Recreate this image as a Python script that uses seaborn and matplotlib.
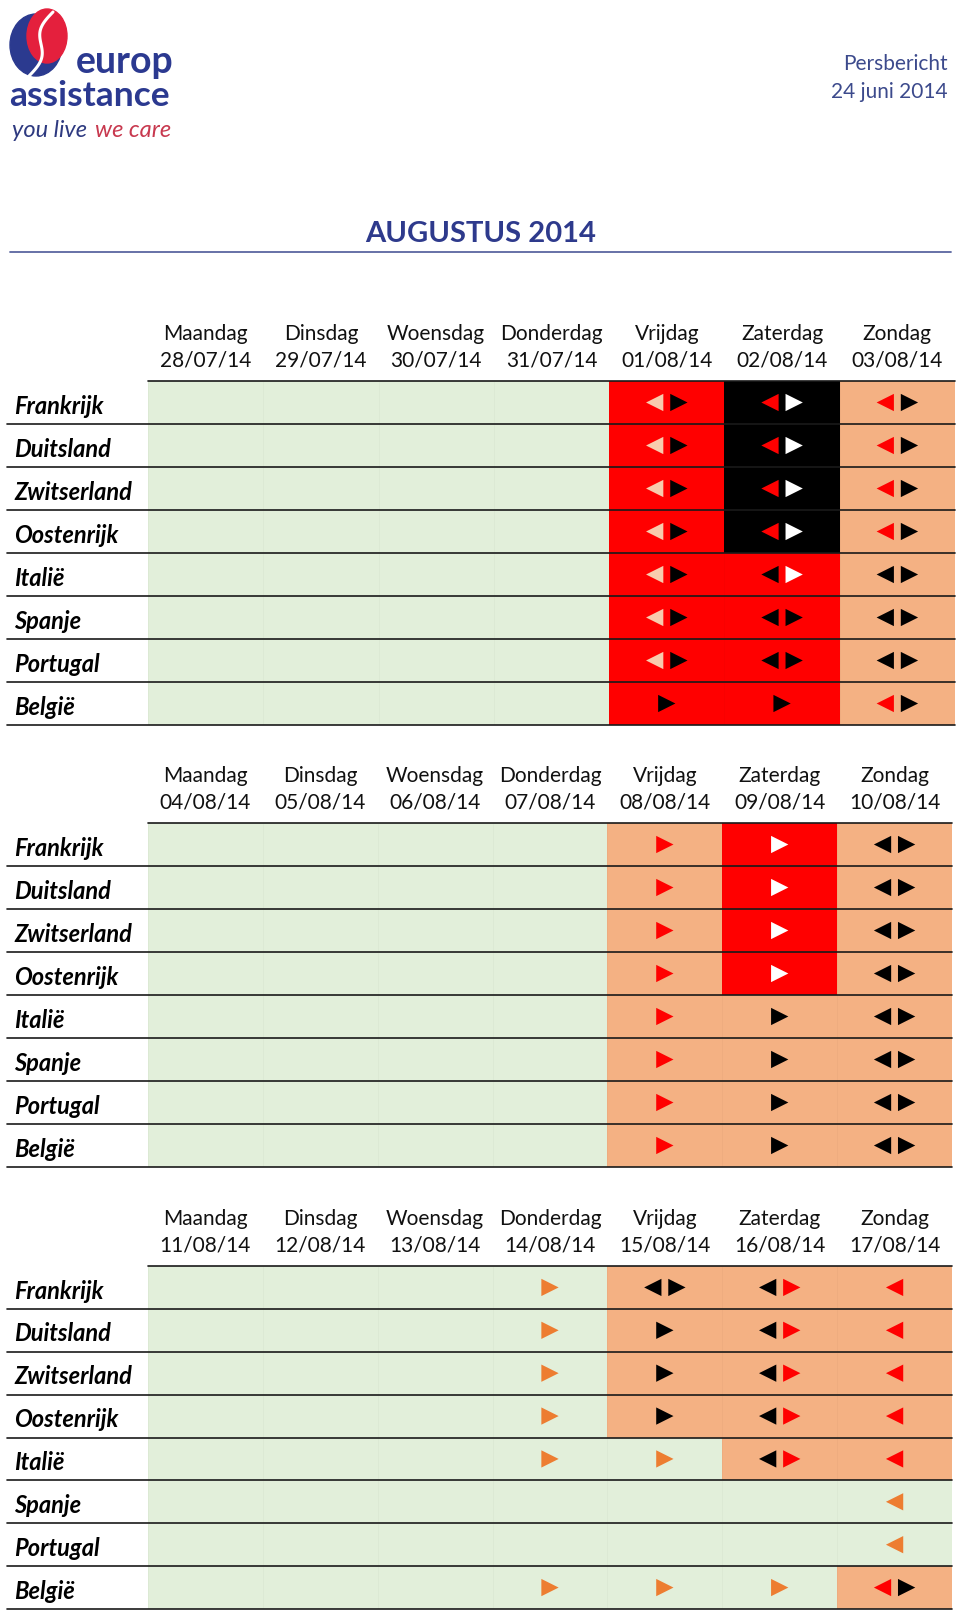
import numpy as np
import pandas as pd
import seaborn as sns
import matplotlib
matplotlib.use("Agg")
import matplotlib.pyplot as plt
import matplotlib.transforms as mtrans
from matplotlib.colors import ListedColormap
from matplotlib.lines import Line2D
from matplotlib.patches import Ellipse

# ---------------- data ----------------
countries = ["Frankrijk", "Duitsland", "Zwitserland", "Oostenrijk",
             "Italië", "Spanje", "Portugal", "België"]
weekdays = ["Maandag", "Dinsdag", "Woensdag", "Donderdag", "Vrijdag", "Zaterdag", "Zondag"]
dates_w1 = ["28/07/14", "29/07/14", "30/07/14", "31/07/14", "01/08/14", "02/08/14", "03/08/14"]
dates_w2 = ["04/08/14", "05/08/14", "06/08/14", "07/08/14", "08/08/14", "09/08/14", "10/08/14"]
dates_w3 = ["11/08/14", "12/08/14", "13/08/14", "14/08/14", "15/08/14", "16/08/14", "17/08/14"]

# background level: 0 = green, 1 = orange (peach), 2 = red, 3 = black
level_w1 = [
    [0, 0, 0, 0, 2, 3, 1],
    [0, 0, 0, 0, 2, 3, 1],
    [0, 0, 0, 0, 2, 3, 1],
    [0, 0, 0, 0, 2, 3, 1],
    [0, 0, 0, 0, 2, 2, 1],
    [0, 0, 0, 0, 2, 2, 1],
    [0, 0, 0, 0, 2, 2, 1],
    [0, 0, 0, 0, 2, 2, 1],
]
level_w2 = [
    [0, 0, 0, 0, 1, 2, 1],
    [0, 0, 0, 0, 1, 2, 1],
    [0, 0, 0, 0, 1, 2, 1],
    [0, 0, 0, 0, 1, 2, 1],
    [0, 0, 0, 0, 1, 1, 1],
    [0, 0, 0, 0, 1, 1, 1],
    [0, 0, 0, 0, 1, 1, 1],
    [0, 0, 0, 0, 1, 1, 1],
]
level_w3 = [
    [0, 0, 0, 0, 1, 1, 1],
    [0, 0, 0, 0, 1, 1, 1],
    [0, 0, 0, 0, 1, 1, 1],
    [0, 0, 0, 0, 1, 1, 1],
    [0, 0, 0, 0, 0, 1, 1],
    [0, 0, 0, 0, 0, 0, 0],
    [0, 0, 0, 0, 0, 0, 0],
    [0, 0, 0, 0, 0, 0, 1],
]

# arrows per cell: 1st char = colour of "<" (return), 2nd = colour of ">" (departure), "." = none
# k black, r red, w white, p light peach, o orange
arrows_w1 = [
    ["..", "..", "..", "..", "pk", "rw", "rk"],
    ["..", "..", "..", "..", "pk", "rw", "rk"],
    ["..", "..", "..", "..", "pk", "rw", "rk"],
    ["..", "..", "..", "..", "pk", "rw", "rk"],
    ["..", "..", "..", "..", "pk", "kw", "kk"],
    ["..", "..", "..", "..", "pk", "kk", "kk"],
    ["..", "..", "..", "..", "pk", "kk", "kk"],
    ["..", "..", "..", "..", ".k", ".k", "rk"],
]
arrows_w2 = [
    ["..", "..", "..", "..", ".r", ".w", "kk"],
    ["..", "..", "..", "..", ".r", ".w", "kk"],
    ["..", "..", "..", "..", ".r", ".w", "kk"],
    ["..", "..", "..", "..", ".r", ".w", "kk"],
    ["..", "..", "..", "..", ".r", ".k", "kk"],
    ["..", "..", "..", "..", ".r", ".k", "kk"],
    ["..", "..", "..", "..", ".r", ".k", "kk"],
    ["..", "..", "..", "..", ".r", ".k", "kk"],
]
arrows_w3 = [
    ["..", "..", "..", ".o", "kk", "kr", "r."],
    ["..", "..", "..", ".o", ".k", "kr", "r."],
    ["..", "..", "..", ".o", ".k", "kr", "r."],
    ["..", "..", "..", ".o", ".k", "kr", "r."],
    ["..", "..", "..", ".o", ".o", "kr", "r."],
    ["..", "..", "..", "..", "..", "..", "o."],
    ["..", "..", "..", "..", "..", "..", "o."],
    ["..", "..", "..", ".o", ".o", ".o", "rk"],
]

# ---------------- style ----------------
BG_COLORS = ["#E2EFDA", "#F4B183", "#FF0000", "#000000"]
ARROW_COLORS = {"k": "#000000", "r": "#FF0000", "w": "#FFFFFF", "p": "#F8CBAD", "o": "#ED7D31"}
NAVY = "#2E3A8C"
FONT = ["Lato", "DejaVu Sans"]

sns.set_theme(style="white")
plt.rcParams["font.family"] = FONT

W, H = 960, 1615
fig = plt.figure(figsize=(W / 100, H / 100), dpi=100)
fig.patch.set_facecolor("white")


def fx(px):
    return px / W


def fy(py):
    return 1 - py / H


# ---------------- logo ----------------
ax_logo = fig.add_axes([fx(9), fy(79), 60 / W, 70 / H])
ax_logo.set_xlim(0, 60)
ax_logo.set_ylim(0, 70)
ax_logo.axis("off")
ax_logo.add_patch(Ellipse((27, 33), 52, 62, color="#2B3A8F"))
ax_logo.add_patch(Ellipse((38, 42), 40, 54, color="#E4203D"))
t = np.linspace(0, 1, 60)
ax_logo.plot(20 + 24 * t + 6 * np.sin(t * np.pi * 2), 2 + 64 * t, color="white", lw=2.2)

fig.text(fx(76), fy(73), "europ", fontsize=27, fontweight="bold", color="#2B3990",
         ha="left", va="baseline")
fig.text(fx(9), fy(106), "assistance", fontsize=25.5, fontweight="bold", color="#2B3990",
         ha="left", va="baseline")
fig.text(fx(12), fy(137), "you live", fontsize=17, fontstyle="italic", color="#2E3A80",
         ha="left", va="baseline")
fig.text(fx(95), fy(137), "we care", fontsize=17, fontstyle="italic", color="#C8394F",
         ha="left", va="baseline")

# ---------------- header ----------------
fig.text(fx(948), fy(64), "Persbericht", fontsize=15, color="#3C4A8C", ha="right", va="center")
fig.text(fx(948), fy(92), "24 juni 2014", fontsize=15, color="#3C4A8C", ha="right", va="center")
fig.text(fx(481), fy(234), "AUGUSTUS 2014", fontsize=21, fontweight="bold", color=NAVY,
         ha="center", va="center")
fig.add_artist(Line2D([fx(10), fx(951)], [fy(253), fy(253)], color="#5A66A0", lw=1.3))

cmap = ListedColormap(BG_COLORS)


def draw_block(top, bottom, right, levels, arrows, dates):
    ax = fig.add_axes([fx(148), fy(bottom), fx(right) - fx(148), (bottom - top) / H])
    df = pd.DataFrame(levels, index=countries, columns=[f"{d}\n{dt}" for d, dt in zip(weekdays, dates)])
    sns.heatmap(df, ax=ax, cmap=cmap, vmin=-0.5, vmax=3.5, cbar=False,
                xticklabels=True, yticklabels=False,
                linewidths=0.6, linecolor=(0, 0, 0, 0.025))
    ax.xaxis.tick_top()
    ax.tick_params(axis="x", length=0, pad=8)
    for lab in ax.get_xticklabels():
        lab.set_fontsize(15)
        lab.set_rotation(0)
        lab.set_linespacing(1.4)
        lab.set_color("#111111")
    ax.set_xlabel("")
    ax.set_ylabel("")

    trans = mtrans.blended_transform_factory(fig.transFigure, ax.transData)
    for i, name in enumerate(countries):
        ax.text(fx(14), i + 0.56, name, transform=trans, fontsize=17, fontweight="bold",
                fontstyle="italic", ha="left", va="center", color="#000000")
    # row separator lines
    ax.axhline(0, color="#1a1a1a", lw=1.2, zorder=5, clip_on=False)
    for i in range(1, len(countries) + 1):
        ax.add_line(Line2D([fx(7), fx(right)], [i, i], transform=trans, color="#1a1a1a",
                           lw=1.2, zorder=5, clip_on=False))

    # arrows
    off = 0.105
    lx, ly, lc, rx, ry, rc = [], [], [], [], [], []
    for i, row in enumerate(arrows):
        for j, code in enumerate(row):
            left, rightc = code[0], code[1]
            both = left != "." and rightc != "."
            if left != ".":
                lx.append(j + 0.5 - (off if both else 0))
                ly.append(i + 0.5)
                lc.append(ARROW_COLORS[left])
            if rightc != ".":
                rx.append(j + 0.5 + (off if both else 0))
                ry.append(i + 0.5)
                rc.append(ARROW_COLORS[rightc])
    ax.scatter(lx, ly, marker="<", s=155, c=lc, linewidths=0, zorder=4)
    ax.scatter(rx, ry, marker=">", s=155, c=rc, linewidths=0, zorder=4)
    return ax


draw_block(382, 726, 955, level_w1, arrows_w1, dates_w1)
draw_block(824, 1168, 952, level_w2, arrows_w2, dates_w2)
draw_block(1267, 1610, 952, level_w3, arrows_w3, dates_w3)

fig.savefig("out.png", dpi=100, facecolor="white")
